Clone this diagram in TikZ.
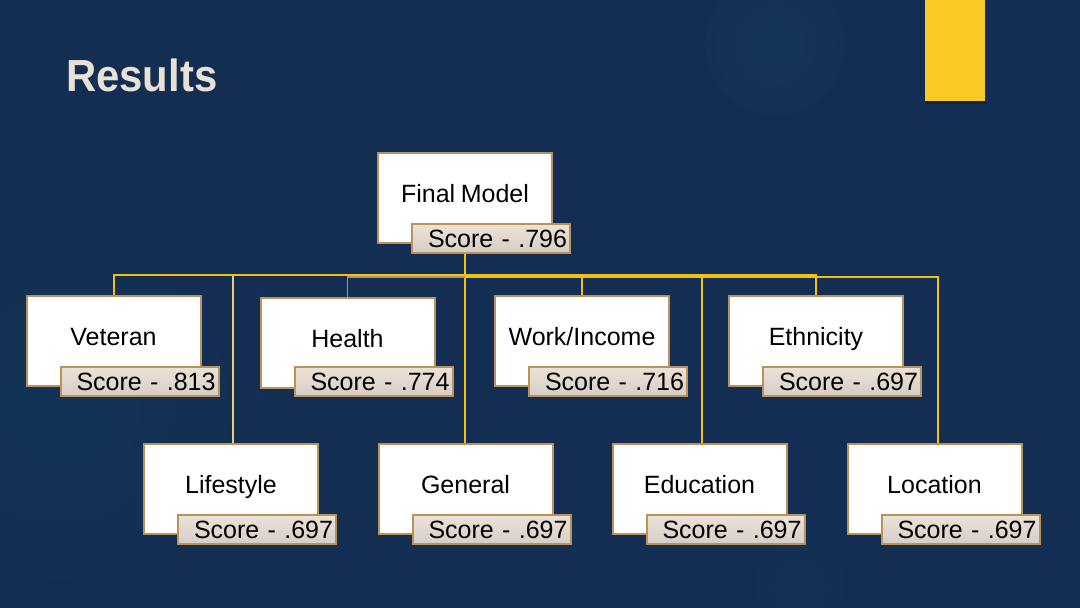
\documentclass[tikz,border=0pt]{standalone}
\usepackage{fontspec}
\setmainfont[WordSpace=0.8]{Liberation Sans}
\usetikzlibrary{calc,shadings}
\definecolor{bgnavy}{RGB}{19,46,82}
\definecolor{glow}{RGB}{29,64,98}
\definecolor{tan}{RGB}{186,146,92}
\definecolor{scoretop}{RGB}{236,226,215}
\definecolor{scorebot}{RGB}{214,205,199}
\definecolor{busyellow}{RGB}{240,192,20}
\definecolor{paleyellow}{RGB}{232,205,120}
\definecolor{accent}{RGB}{249,202,36}
\definecolor{titlecol}{RGB}{232,226,214}
\pgfdeclarelayer{bgl}
\pgfdeclarelayer{lines}
\pgfsetlayers{bgl,lines,main}
\tikzset{
  catbox/.style={draw=tan, line width=2pt, fill=white, minimum width=174pt, minimum height=90pt, inner sep=0pt},
  catlabel/.style={font=\fontsize{25}{30}\selectfont, text=black, inner sep=0pt, anchor=base},
  scorebox/.style={draw=tan, line width=2pt, top color=scoretop, bottom color=scorebot, minimum height=29pt, text width=152pt, align=right, inner xsep=3pt, inner ysep=0pt, font=\fontsize{25}{30}\selectfont, text=black},
  mainbus/.style={draw=busyellow, line width=2pt},
  thinbus/.style={draw=busyellow, line width=1.3pt},
  palebus/.style={draw=paleyellow, line width=1.1pt},
  tanbus/.style={draw=tan, line width=1.6pt},
  glowdot/.style={fill=glow, opacity=0.12}
}
\begin{document}
\begin{tikzpicture}[x=1pt,y=-1pt]
\useasboundingbox (0,0) rectangle (1080,608);
\begin{pgfonlayer}{bgl}
\fill[bgnavy] (0,0) rectangle (1080,608);
\begin{scope}
\clip (0,0) rectangle (1080,608);
\foreach \r in {70,60,50,40,30,20} {\fill[glowdot] (775,45) circle (\r);}
\foreach \r in {170,140,110,80,50} {\fill[glowdot,opacity=0.08] (60,410) circle (\r);}
\foreach \r in {45,35,25} {\fill[glowdot,opacity=0.08] (800,585) circle (\r);}
\end{scope}
\fill[black,opacity=0.25] (926,101) rectangle (986,104);
\fill[accent] (925,0) rectangle (985,101);
\end{pgfonlayer}

\node[anchor=base west, text=titlecol, inner sep=0pt, font=\fontsize{45}{50}\selectfont\bfseries] (title) at (66,91) {\scalebox{0.93}[1]{Results}};

% top
\node[catbox] (fm) at (465,198) {};
\node[catlabel] (fmT) at ($(fm.center)+(0,4)$) {Final Model};
\node[scorebox] (fmS) at ($(fm.center)+(26,40.5)$) {Score - .796};

% row 1
\node[catbox] (vet) at (113.5,341) {};
\node[catlabel] (vetT) at ($(vet.center)+(0,4)$) {Veteran};
\node[scorebox] (vetS) at ($(vet.center)+(26,40.5)$) {Score - .813};

\node[catbox] (hea) at (347.5,343) {};
\node[catlabel] (heaT) at ($(hea.center)+(0,4)$) {Health};
\node[scorebox] (heaS) at ($(hea.center)+(26,38.5)$) {Score - .774};

\node[catbox] (wor) at (582,341) {};
\node[catlabel] (worT) at ($(wor.center)+(0,4)$) {Work/Income};
\node[scorebox] (worS) at ($(wor.center)+(26,40.5)$) {Score - .716};

\node[catbox] (eth) at (816,341) {};
\node[catlabel] (ethT) at ($(eth.center)+(0,4)$) {Ethnicity};
\node[scorebox] (ethS) at ($(eth.center)+(26,40.5)$) {Score - .697};

% row 2
\node[catbox] (lif) at (231,489) {};
\node[catlabel] (lifT) at ($(lif.center)+(0,4)$) {Lifestyle};
\node[scorebox] (lifS) at ($(lif.center)+(26,40.5)$) {Score - .697};

\node[catbox] (gen) at (465.5,489) {};
\node[catlabel] (genT) at ($(gen.center)+(0,4)$) {General};
\node[scorebox] (genS) at ($(gen.center)+(26,40.5)$) {Score - .697};

\node[catbox] (edu) at (699.5,489) {};
\node[catlabel] (eduT) at ($(edu.center)+(0,4)$) {Education};
\node[scorebox] (eduS) at ($(edu.center)+(26,40.5)$) {Score - .697};

\node[catbox] (loc) at (934.5,489) {};
\node[catlabel] (locT) at ($(loc.center)+(0,4)$) {Location};
\node[scorebox] (locS) at ($(loc.center)+(26,40.5)$) {Score - .697};

\coordinate (busA) at (0,275);
\coordinate (busB) at (0,277);
\coordinate (lifTop) at ($(lif.north)+(2,0)$);
\coordinate (eduTop) at ($(edu.north)+(2.5,0)$);
\coordinate (locTop) at ($(loc.north)+(3.5,0)$);

\begin{pgfonlayer}{lines}
% thin connectors to the second row
\draw[palebus] (lifTop |- busA) -- (lifTop);
\draw[thinbus] (fm.south |- busA) -- (fm.south |- gen.north);
\draw[thinbus] (eduTop |- busB) -- (eduTop);
\draw[thinbus] (fm.south |- busB) -- (locTop |- busB) -- (locTop);
% health connector
\draw[tanbus] (fm.south |- busB) -- (hea.north |- busB) -- (hea.north);
% main bus
\draw[mainbus] (fm.south) -- (fm.south |- busA);
\draw[mainbus] (vet.north) -- (vet.north |- busA) -- (eth.north |- busA) -- (eth.north);
\draw[mainbus] (wor.north |- busA) -- (wor.north);
\end{pgfonlayer}
\end{tikzpicture}
\end{document}
